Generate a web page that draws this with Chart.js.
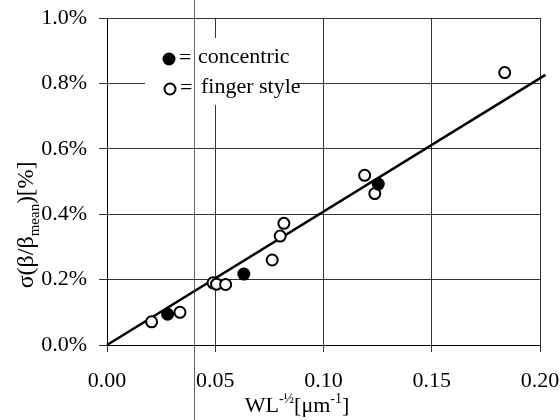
<!DOCTYPE html>
<html><head><meta charset="utf-8">
<script src="https://cdn.jsdelivr.net/npm/chart.js@4"></script>
<style>html,body{margin:0;padding:0;background:#fff}#wrap{width:560px;height:420px}</style>
</head><body><div id="wrap"><canvas id="c" width="560" height="420"></canvas></div>
<script>
// ---- data ----
const concentricX = [0.0280, 0.0632, 0.1253];
const concentricY = [0.094, 0.217, 0.492];
const fingerX = [0.0206, 0.0337, 0.0490, 0.0506, 0.0548, 0.0763, 0.0800, 0.0817, 0.1190, 0.1237, 0.1837];
const fingerY = [0.071, 0.100, 0.190, 0.186, 0.185, 0.260, 0.333, 0.372, 0.519, 0.463, 0.833];
const fitX = [0, 0.2025];
const fitY = [0, 0.826];
const xTicks = [0, 0.05, 0.10, 0.15, 0.20];
const yTicks = [0, 0.2, 0.4, 0.6, 0.8, 1.0];
const legendLabels = ['concentric', 'finger style'];
const artifactX = 0.04;

const FONT = "'Liberation Serif', 'Times New Roman', serif";
const toPts = (xs, ys) => xs.map((x, i) => ({x, y: ys[i]}));

const overlay = {
  id: 'overlay',
  beforeDatasetsDraw(chart) {
    const {ctx, chartArea: a} = chart;
    ctx.save();
    ctx.fillStyle = '#fff';
    ctx.fillRect(a.left + 38, a.top + 20, 150, 67);
    // legend markers
    const mx = a.left + 62;
    const y1 = a.top + 41, y2 = a.top + 71;
    ctx.beginPath(); ctx.arc(mx, y1, 6.5, 0, Math.PI * 2);
    ctx.fillStyle = '#000'; ctx.fill();
    ctx.beginPath(); ctx.arc(mx + 1, y2, 5.5, 0, Math.PI * 2);
    ctx.fillStyle = '#fff'; ctx.fill();
    ctx.lineWidth = 2; ctx.strokeStyle = '#000'; ctx.stroke();
    ctx.fillStyle = '#000';
    ctx.font = '22px ' + FONT;
    ctx.textBaseline = 'middle';
    ctx.textAlign = 'left';
    ctx.fillText('=', mx + 10, y1 - 1);
    ctx.fillText(legendLabels[0], mx + 29, y1 - 2);
    ctx.fillText('=', mx + 11, y2 - 1);
    ctx.fillText(legendLabels[1], mx + 32, y2 - 2);
    ctx.restore();
  },
  afterDraw(chart) {
    const {ctx} = chart;
    const xs = chart.scales.x;
    ctx.save();
    ctx.fillStyle = '#000';
    ctx.textAlign = 'left';
    ctx.textBaseline = 'alphabetic';
    // x title: WL^-1/2 [um^-1]
    const big = '22px ' + FONT, small = '14px ' + FONT;
    const xParts = [['WL', big, 0], ['-\u00BD', small, -9], ['[\u03BCm', big, 0], ['-1', small, -9], [']', big, 0]];
    let w = 0;
    xParts.forEach(p => { ctx.font = p[1]; w += ctx.measureText(p[0]).width; });
    let x = 297 - w / 2;
    const by = 412;
    xParts.forEach(p => { ctx.font = p[1]; ctx.fillText(p[0], x, by + p[2]); x += ctx.measureText(p[0]).width; });
    // y title: sigma(beta/beta_mean)[%]
    const yParts = [['\u03C3(\u03B2/\u03B2', '24px ' + FONT, 0], ['mean', '15px ' + FONT, 6], [')[%]', '23px ' + FONT, 0]];
    w = 0;
    yParts.forEach(p => { ctx.font = p[1]; w += ctx.measureText(p[0]).width; });
    ctx.translate(33, 225);
    ctx.rotate(-Math.PI / 2);
    x = -w / 2;
    yParts.forEach(p => { ctx.font = p[1]; ctx.fillText(p[0], x, p[2]); x += ctx.measureText(p[0]).width; });
    ctx.restore();
    // scan artifact vertical line
    const px = Math.round(xs.getPixelForValue(artifactX)) + 0.5;
    ctx.save();
    ctx.strokeStyle = 'rgba(60,60,60,0.8)';
    ctx.lineWidth = 1;
    ctx.beginPath(); ctx.moveTo(px, 0); ctx.lineTo(px, chart.height); ctx.stroke();
    ctx.restore();
  }
};

new Chart(document.getElementById('c'), {
  type: 'scatter',
  data: {
    datasets: [
      { label: 'concentric', data: toPts(concentricX, concentricY),
        pointStyle: 'circle', pointRadius: 6.5, pointHoverRadius: 6.5,
        backgroundColor: '#000', borderColor: '#000', borderWidth: 0 },
      { label: 'finger style', data: toPts(fingerX, fingerY),
        pointStyle: 'circle', pointRadius: 5.5, pointHoverRadius: 5.5,
        backgroundColor: '#fff', borderColor: '#000', borderWidth: 2 },
      { label: 'fit', type: 'line', data: toPts(fitX, fitY),
        borderColor: '#000', borderWidth: 2.5, pointRadius: 0, fill: false,
        showLine: true, clip: 10, tension: 0 }
    ]
  },
  options: {
    responsive: false,
    animation: false,
    events: [],
    layout: { padding: { top: 18, right: 20, left: 0, bottom: 0 } },
    plugins: { legend: { display: false }, tooltip: { enabled: false } },
    scales: {
      x: {
        type: 'linear', min: 0, max: 0.2,
        afterBuildTicks: s => { s.ticks = xTicks.map(v => ({value: v})); },
        afterFit: s => { s.height = 75; s.paddingLeft = 0; s.paddingRight = 0; },
        ticks: { color: '#000', font: { family: FONT, size: 22 }, padding: 16,
                 callback: v => Number(v).toFixed(2) },
        grid: { color: 'rgba(0,0,0,0.8)', lineWidth: 1, tickLength: 7 },
        border: { display: true, color: '#000', width: 1 }
      },
      y: {
        type: 'linear', min: 0, max: 1.0,
        afterBuildTicks: s => { s.ticks = yTicks.map(v => ({value: v})); },
        afterFit: s => { s.width = 107; s.paddingTop = 0; s.paddingBottom = 0; },
        ticks: { color: '#000', font: { family: FONT, size: 22 }, padding: 12,
                 callback: v => Number(v).toFixed(1) + '%' },
        grid: { color: 'rgba(0,0,0,0.8)', lineWidth: 1, tickLength: 8 },
        border: { display: true, color: '#000', width: 1 }
      }
    }
  },
  plugins: [overlay]
});
</script>
</body></html>
